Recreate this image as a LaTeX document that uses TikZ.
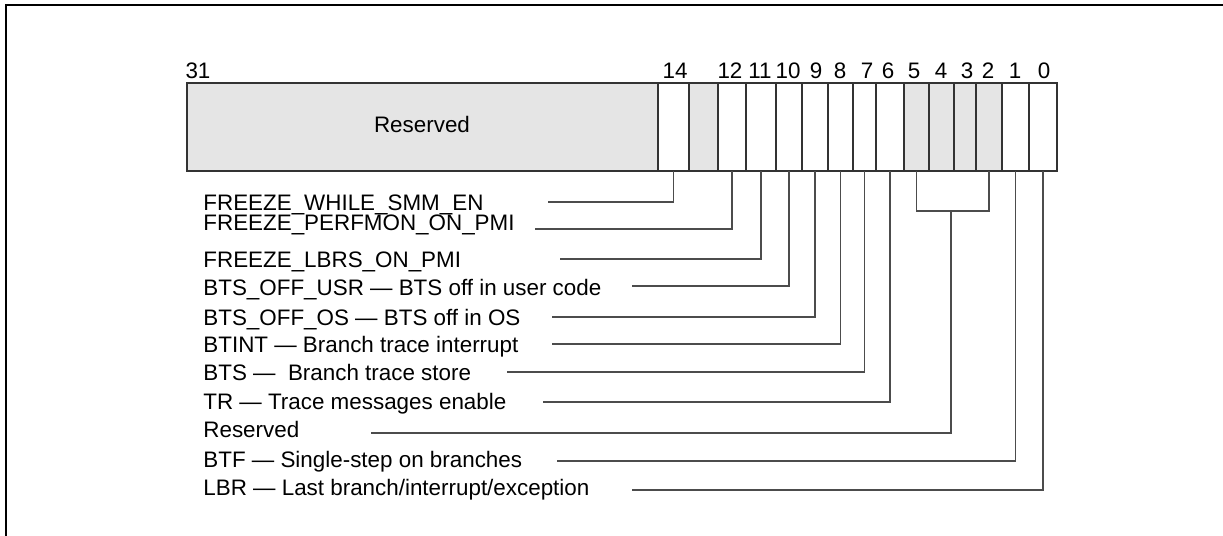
\documentclass[tikz,border=0pt]{standalone}
\usepackage{fontspec}
\setmainfont{Liberation Sans}

\begin{document}
\begin{tikzpicture}[x=0.5pt,y=-0.5pt,font=\fontsize{11.2}{13}\selectfont]
\tikzstyle{cell}=[draw=black!80,line width=0.6pt,minimum height=44pt,inner sep=0pt,outer sep=0pt]
\tikzstyle{lead}=[draw=black!70,line width=0.55pt]
\tikzstyle{lbl}=[anchor=base west,inner sep=0pt]
\useasboundingbox (0,0) rectangle (1223,536);
\draw[line width=0.8pt] (6,536) -- (6,5) -- (1223,5);
\node [cell,fill=gray!20,minimum width=235.5pt] (res) at (422.5,127) {};
\node [anchor=base] (restxt) at (422,132) {Reserved};
\foreach \n/\xa/\xb/\fc in {14/658/689/white,13/689/718/gray!20,12/718/746/white,
    11/746/776/white,10/776/802/white,9/802/828/white,8/828/853/white,7/853/876/white,
    6/876/904/white,5/904/929/gray!20,4/929/954/gray!20,3/954/976/gray!20,
    2/976/1002/gray!20,1/1002/1029/white,0/1029/1057/white}
  \node [cell,fill=\fc,minimum width={(\xb-\xa)*0.5pt}] (b\n) at ({(\xa+\xb)/2},127) {};
\foreach \n/\x in {31/198,14/675,12/730,11/760,10/788,9/816,8/840,7/867,6/888,
    5/914,4/941,3/967,2/988,1/1015,0/1044}
  \node [anchor=base] (n\n) at (\x,78) {\n};
\node [lbl] (f14) at (203,210) {FREEZE\_WHILE\_SMM\_EN};
\node [lbl] (f12) at (203,230) {FREEZE\_PERFMON\_ON\_PMI};
\node [lbl] (f11) at (203,267) {FREEZE\_LBRS\_ON\_PMI};
\node [lbl] (f10) at (203,295) {BTS\_OFF\_USR --- BTS off in user code};
\node [lbl] (f9) at (203,325) {BTS\_OFF\_OS --- BTS off in OS};
\node [lbl] (f8) at (203,352) {BTINT --- Branch trace interrupt};
\node [lbl] (f7) at (203,380) {BTS --- \ Branch trace store};
\node [lbl] (f6) at (203,409) {TR --- Trace messages enable};
\node [lbl] (frsv) at (203,437) {Reserved};
\node [lbl] (f1) at (203,467) {BTF --- Single-step on branches};
\node [lbl] (f0) at (203,495) {LBR --- Last branch/interrupt/exception};
\coordinate (t14) at (548,202);
\coordinate (t12) at (535,229);
\coordinate (t11) at (560,259);
\coordinate (t10) at (632,286);
\coordinate (t9) at (552,317);
\coordinate (t8) at (552,344);
\coordinate (t7) at (507,372);
\coordinate (t6) at (543,402);
\coordinate (trsv) at (371,433);
\coordinate (t1) at (557,461);
\coordinate (t0) at (632,490);
\coordinate (brk) at (951,211);
\foreach \n in {14,12,11,10,9,8,7,6,1,0}
  \path[lead] (b\n.south) |- (t\n);
\path[lead] (b5.south) |- (brk) -| (b2.south);
\path[lead] (brk) |- (trsv);
\end{tikzpicture}
\end{document}
